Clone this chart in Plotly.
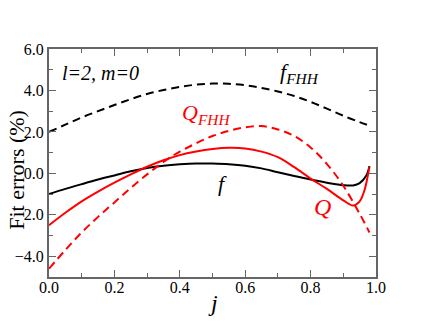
import plotly.graph_objects as go

x_vals = [0.0, 0.05, 0.1, 0.15, 0.2, 0.25, 0.3, 0.35, 0.4, 0.45, 0.5, 0.55, 0.6, 0.65, 0.7, 0.75, 0.8, 0.85, 0.9, 0.95, 0.98]

# f_FHH (black dashed)
y_ffhh = [2.0, 2.35, 2.7, 3.0, 3.3, 3.58, 3.83, 4.02, 4.17, 4.28, 4.33, 4.32, 4.25, 4.12, 3.95, 3.73, 3.45, 3.12, 2.78, 2.47, 2.3]

# Q_FHH (red dashed)
y_qfhh = [-4.6, -3.7, -2.85, -2.1, -1.4, -0.7, -0.05, 0.55, 1.05, 1.45, 1.8, 2.05, 2.22, 2.28, 2.12, 1.8, 1.25, 0.45, -0.6, -1.95, -2.85]

# f (black solid) - finer sampling near the end
x_f = [0.0, 0.05, 0.1, 0.15, 0.2, 0.25, 0.3, 0.35, 0.4, 0.45, 0.5, 0.55, 0.6, 0.65, 0.7, 0.75, 0.8, 0.85, 0.9, 0.93, 0.95, 0.97, 0.98]
y_f = [-1.0, -0.75, -0.52, -0.3, -0.1, 0.1, 0.26, 0.37, 0.44, 0.48, 0.47, 0.44, 0.37, 0.24, 0.05, -0.13, -0.3, -0.45, -0.57, -0.58, -0.47, -0.12, 0.35]

# Q (red solid)
x_q = [0.0, 0.05, 0.1, 0.15, 0.2, 0.25, 0.3, 0.35, 0.4, 0.45, 0.5, 0.55, 0.6, 0.65, 0.7, 0.75, 0.8, 0.85, 0.9, 0.93, 0.95, 0.965, 0.975, 0.98]
y_q = [-2.5, -1.9, -1.35, -0.88, -0.45, -0.05, 0.32, 0.63, 0.88, 1.05, 1.17, 1.23, 1.2, 1.05, 0.78, 0.3, -0.25, -0.75, -1.3, -1.55, -1.35, -0.8, -0.1, 0.3]

FONT = "Times New Roman, Liberation Serif, serif"
DASH = "8px,5px"

fig = go.Figure()
fig.add_trace(go.Scatter(x=x_vals, y=y_ffhh, mode="lines", line_shape="spline",
                         line=dict(color="black", width=2, dash=DASH)))
fig.add_trace(go.Scatter(x=x_f, y=y_f, mode="lines", line_shape="spline",
                         line=dict(color="black", width=2)))
fig.add_trace(go.Scatter(x=x_q, y=y_q, mode="lines", line_shape="spline",
                         line=dict(color="red", width=2)))
fig.add_trace(go.Scatter(x=x_vals, y=y_qfhh, mode="lines", line_shape="spline",
                         line=dict(color="red", width=2, dash=DASH)))

labels = [
    (0.035, 4.85, "<i>l=2, m=0</i>", "black", 20),
    (0.70, 4.85, "<i>f</i><sub><i>FHH</i></sub>", "black", 22),
    (0.40, 2.85, "<i>Q</i><sub><i>FHH</i></sub>", "red", 22),
    (0.51, -0.47, "<i>f</i>", "black", 22),
    (0.805, -1.63, "<i>Q</i>", "red", 24),
]
for lx, ly, txt, col, sz in labels:
    fig.add_annotation(x=lx, y=ly, text=txt, showarrow=False, xanchor="left",
                       font=dict(family=FONT, size=sz, color=col))

# axis titles placed by hand so they sit close to the tick labels
fig.add_annotation(xref="paper", yref="paper", x=-0.098, y=0.47, text="Fit errors (%)",
                   textangle=-90, showarrow=False, xanchor="center", yanchor="middle",
                   font=dict(family=FONT, size=22, color="black"))
fig.add_annotation(xref="paper", yref="paper", x=0.5, y=-0.115, text="<i>j</i>",
                   showarrow=False, xanchor="center", yanchor="middle",
                   font=dict(family=FONT, size=24, color="black"))

axis_common = dict(showline=True, linecolor="#666", linewidth=2, mirror="ticks",
                   ticks="inside", ticklen=7, tickcolor="#666", showgrid=False,
                   zeroline=False, automargin=False,
                   tickfont=dict(family=FONT, size=16, color="black"))

fig.update_xaxes(range=[0, 1], dtick=0.2, tickformat=".1f", ticklabelstandoff=-5,
                 minor=dict(dtick=0.1, ticks="inside", ticklen=4, tickcolor="#666"),
                 **axis_common)
fig.update_yaxes(range=[-5, 6], dtick=2, tickformat=".1f",
                 minor=dict(dtick=1, ticks="inside", ticklen=4, tickcolor="#666"),
                 **axis_common)

# the page body adds an 8px offset, so the margins are shifted to compensate
fig.update_layout(width=423, height=327, showlegend=False,
                  font=dict(family=FONT, color="black"),
                  margin=dict(l=41, r=55, t=41, b=58, autoexpand=False),
                  plot_bgcolor="white", paper_bgcolor="white")

fig.write_html("out.html")
